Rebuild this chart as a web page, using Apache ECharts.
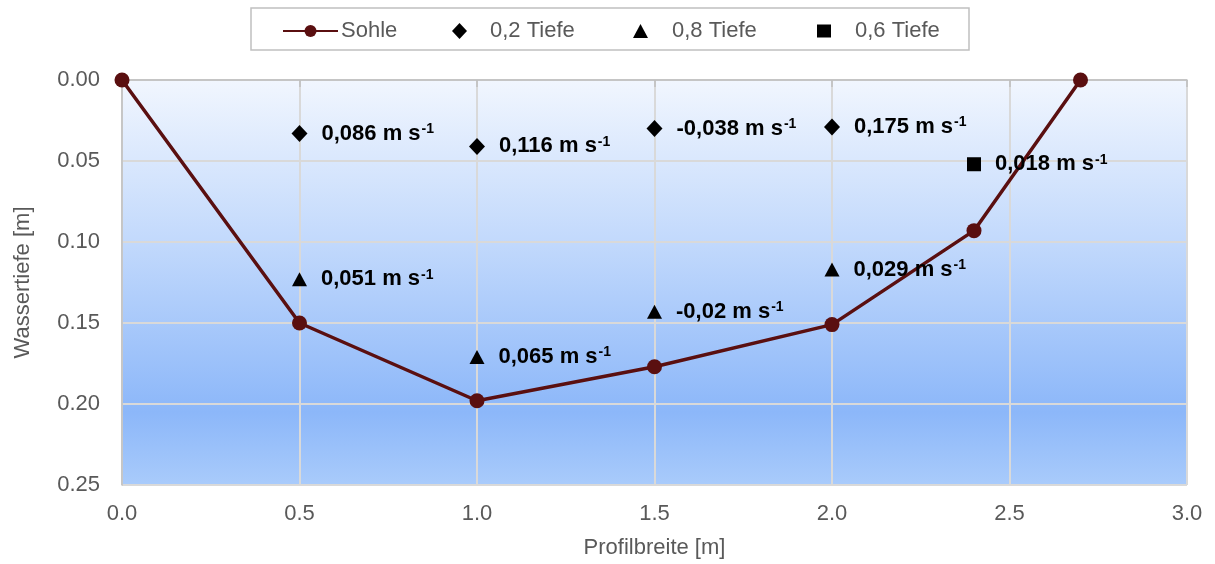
<!DOCTYPE html>
<html>
<head>
<meta charset="utf-8">
<script src="https://cdn.jsdelivr.net/npm/echarts@6/dist/echarts.min.js"></script>
<style>
  html, body { margin: 0; padding: 0; background: #ffffff; }
  #chart { width: 1215px; height: 564px; }
</style>
</head>
<body>
<div id="chart"></div>
<script>
// Channel bed profile: width position [m] and water depth [m]
const sohleBreite = [0.0, 0.5, 1.0, 1.5, 2.0, 2.4, 2.7];
const sohleTiefe  = [0.0, 0.150, 0.198, 0.177, 0.151, 0.093, 0.0];

// Flow measurements at 0.2 of depth: position, depth, velocity [m/s]
const t02Breite = [0.5, 1.0, 1.5, 2.0];
const t02Tiefe  = [0.033, 0.041, 0.030, 0.029];
const t02Vel    = [0.086, 0.116, -0.038, 0.175];

// Flow measurements at 0.8 of depth
const t08Breite = [0.5, 1.0, 1.5, 2.0];
const t08Tiefe  = [0.123, 0.171, 0.143, 0.117];
const t08Vel    = [0.051, 0.065, -0.02, 0.029];

// Flow measurement at 0.6 of depth
const t06Breite = [2.4];
const t06Tiefe  = [0.052];
const t06Vel    = [0.018];

const xTicks = { min: 0, max: 3, interval: 0.5 };
const yTicks = { min: 0, max: 0.25, interval: 0.05 };

const FONT = '"Liberation Sans", Arial, sans-serif';
const GRAY = '#595959';
const BED = '#5a0f10';
const FS = 22;

function pairs(xs, ys, vs) {
  return xs.map((x, i) => vs ? [x, ys[i], vs[i]] : [x, ys[i]]);
}

function velText(v) {
  return '{v|' + String(v).replace('.', ',') + ' m s}{sup|-1}';
}

const velLabel = {
  show: true,
  position: 'right',
  distance: 14,
  formatter: p => velText(p.data[2]),
  rich: {
    v: { fontFamily: FONT, fontWeight: 'bold', fontSize: 22, color: '#000000' },
    sup: { fontFamily: FONT, fontWeight: 'bold', fontSize: 14, color: '#000000', padding: [0, 0, 9, 1] }
  }
};

// one legend block per entry so each icon keeps its own width
function legendEntry(name, left, iconW, iconH, textPad) {
  return {
    left: left,
    top: 20,
    padding: 0,
    itemWidth: iconW,
    itemHeight: iconH,
    data: [name],
    textStyle: { fontFamily: FONT, fontSize: FS, color: GRAY, padding: [0, 0, 0, textPad] }
  };
}

const chart = echarts.init(document.getElementById('chart'), null, { renderer: 'canvas' });

chart.setOption({
  animation: false,
  backgroundColor: '#ffffff',
  textStyle: { fontFamily: FONT },
  graphic: [{
    type: 'rect',
    shape: { x: 251, y: 8, width: 718, height: 42 },
    style: { fill: '#ffffff', stroke: '#c0c0c0', lineWidth: 1.5 },
    z: -1
  }],
  legend: [
    legendEntry('Sohle', 282, 55, 15, -2),
    legendEntry('0,2 Tiefe', 452, 15, 16, 18),
    legendEntry('0,8 Tiefe', 633, 15, 14, 19),
    legendEntry('0,6 Tiefe', 817, 14, 13, 19)
  ],
  grid: {
    left: 122,
    right: 28,
    top: 80,
    bottom: 78,
    show: true,
    borderWidth: 0,
    backgroundColor: {
      type: 'linear', x: 0, y: 0, x2: 0, y2: 1,
      colorStops: [
        { offset: 0, color: '#f1f6fe' },
        { offset: 0.4, color: '#c2d9fc' },
        { offset: 0.82, color: '#8cb7f9' },
        { offset: 1, color: '#a9cbfb' }
      ]
    }
  },
  xAxis: {
    type: 'value',
    min: xTicks.min,
    max: xTicks.max,
    interval: xTicks.interval,
    name: 'Profilbreite [m]',
    nameLocation: 'middle',
    nameGap: 52,
    nameTextStyle: { fontFamily: FONT, fontSize: FS, color: GRAY },
    axisLine: { show: true, lineStyle: { color: '#bfbfbf', width: 1.5 } },
    axisTick: { show: true, length: 7, lineStyle: { color: '#bfbfbf', width: 1.5 } },
    axisLabel: { fontFamily: FONT, fontSize: FS, color: GRAY, margin: 18, formatter: v => v.toFixed(1) },
    splitLine: { show: true, lineStyle: { color: '#d9d9d9', width: 2 } }
  },
  yAxis: {
    type: 'value',
    inverse: true,
    min: yTicks.min,
    max: yTicks.max,
    interval: yTicks.interval,
    name: 'Wassertiefe [m]',
    nameLocation: 'middle',
    nameGap: 88,
    nameTextStyle: { fontFamily: FONT, fontSize: FS, color: GRAY },
    axisLine: { show: true, lineStyle: { color: '#bfbfbf', width: 1.5 } },
    axisTick: { show: false },
    axisLabel: { fontFamily: FONT, fontSize: FS, color: GRAY, margin: 22, formatter: v => v.toFixed(2) },
    splitLine: { show: true, lineStyle: { color: '#d9d9d9', width: 2 } }
  },
  series: [
    {
      name: 'Sohle',
      type: 'line',
      data: pairs(sohleBreite, sohleTiefe),
      symbol: 'circle',
      symbolSize: 15,
      lineStyle: { color: BED, width: 3.5 },
      itemStyle: { color: BED, opacity: 1 },
      z: 3
    },
    {
      name: '0,2 Tiefe',
      type: 'scatter',
      data: pairs(t02Breite, t02Tiefe, t02Vel),
      symbol: 'diamond',
      symbolSize: [16, 17],
      itemStyle: { color: '#000000', opacity: 1 },
      label: velLabel,
      z: 4
    },
    {
      name: '0,8 Tiefe',
      type: 'scatter',
      data: pairs(t08Breite, t08Tiefe, t08Vel),
      symbol: 'triangle',
      symbolSize: [15, 14],
      itemStyle: { color: '#000000', opacity: 1 },
      label: velLabel,
      z: 4
    },
    {
      name: '0,6 Tiefe',
      type: 'scatter',
      data: pairs(t06Breite, t06Tiefe, t06Vel),
      symbol: 'rect',
      symbolSize: 14,
      itemStyle: { color: '#000000', opacity: 1 },
      label: velLabel,
      z: 4
    }
  ]
});
</script>
</body>
</html>
